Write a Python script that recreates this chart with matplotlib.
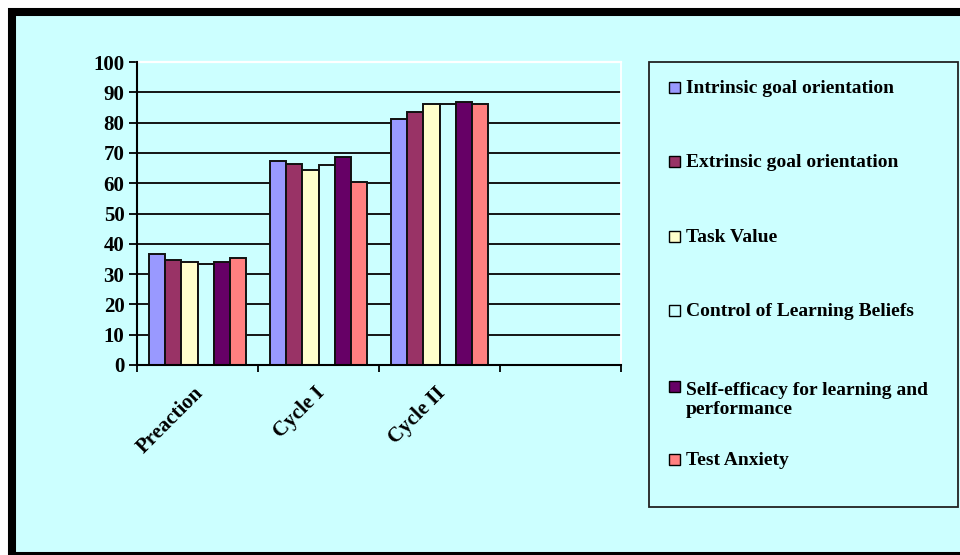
import matplotlib
matplotlib.use('Agg')
import matplotlib.pyplot as plt
from matplotlib.patches import Rectangle
import numpy as np

# ---- data ----
categories = ['Preaction', 'Cycle I', 'Cycle II']
series_names = ['Intrinsic goal orientation', 'Extrinsic goal orientation', 'Task Value',
                'Control of Learning Beliefs', 'Self-efficacy for learning and\nperformance',
                'Test Anxiety']
intrinsic = [36.6, 67.2, 81.3]
extrinsic = [34.7, 66.4, 83.4]
task_value = [33.9, 64.4, 86.0]
control_beliefs = [33.4, 65.9, 86.0]
self_efficacy = [33.9, 68.5, 86.8]
test_anxiety = [35.2, 60.3, 86.0]
yticks = list(range(0, 101, 10))

series_values = [intrinsic, extrinsic, task_value, control_beliefs, self_efficacy, test_anxiety]
colors = ['#9999FF', '#993366', '#FFFFCC', '#CCFFFF', '#660066', '#FF8080']
bg = '#CCFFFF'
W, H = 960, 555
font = 'Liberation Serif'

def fx(px):
    return px / W

def fy(py):
    return 1 - py / H

fig = plt.figure(figsize=(W / 100, H / 100), dpi=100, facecolor='white')

# panel background with thick black border
panel = Rectangle((fx(12), fy(556)), fx(975) - fx(12), fy(11.5) - fy(556),
                  transform=fig.transFigure, facecolor=bg, edgecolor='black',
                  linewidth=5.8, zorder=-5)
fig.patches.append(panel)

ax = fig.add_axes([fx(137), fy(365), fx(621) - fx(137), fy(62) - fy(365)])
ax.set_facecolor('none')
ax.set_zorder(2)

n = len(series_values)
group_w = 0.8
bw = group_w / n
x0 = np.arange(len(categories))
for j, (vals, c) in enumerate(zip(series_values, colors)):
    xs = x0 + (1 - group_w) / 2 + (j + 0.5) * bw
    ax.bar(xs, vals, width=bw, color=c, edgecolor='#111111', linewidth=1.4, zorder=3)

ax.set_xlim(0, 4)
ax.set_ylim(0, 100)
ax.set_yticks(yticks)
ax.set_yticklabels([str(t) for t in yticks], fontfamily=font, fontweight='bold', fontsize=15)
ax.set_xticks([0, 1, 2, 3, 4])
ax.set_xticklabels([])
ax.tick_params(axis='y', direction='out', length=6, width=1.3, pad=3)
ax.tick_params(axis='x', direction='out', length=5, width=1.3)

for t in yticks[1:-1]:
    ax.axhline(t, color='#151515', linewidth=1.4, zorder=1)

for s in ['left', 'bottom']:
    ax.spines[s].set_linewidth(1.5)
    ax.spines[s].set_zorder(4)
ax.spines['right'].set_color('white')
ax.spines['right'].set_linewidth(1.3)
ax.spines['top'].set_color('white')
ax.spines['top'].set_linewidth(1.6)

for i, cat in enumerate(categories):
    ax.annotate(cat, xy=(i + 0.5, 0), xycoords=('data', 'axes fraction'),
                xytext=(2, -18), textcoords='offset points',
                rotation=45, rotation_mode='anchor', ha='right', va='center',
                fontfamily=font, fontweight='bold', fontsize=15)

# legend box
lg = Rectangle((fx(649), fy(507)), fx(958) - fx(649), fy(62) - fy(507),
               transform=fig.transFigure, facecolor='none', edgecolor='#222222',
               linewidth=1.3, zorder=5)
fig.patches.append(lg)
handle_y = [87, 161, 236, 310, 386, 459]
for name, c, hy in zip(series_names, colors, handle_y):
    sq = Rectangle((fx(669), fy(hy + 5.5)), fx(680) - fx(669), fy(hy - 5.5) - fy(hy + 5.5),
                   transform=fig.transFigure, facecolor=c, edgecolor='black',
                   linewidth=1.0, zorder=6)
    fig.patches.append(sq)
    extra = name.count('\n') * 22
    fig.text(fx(686), fy(hy + 6 + extra), name, ha='left', va='baseline',
             fontfamily=font, fontweight='bold', fontsize=14, linespacing=1.15)

fig.savefig('out.png', dpi=100, facecolor='white')
